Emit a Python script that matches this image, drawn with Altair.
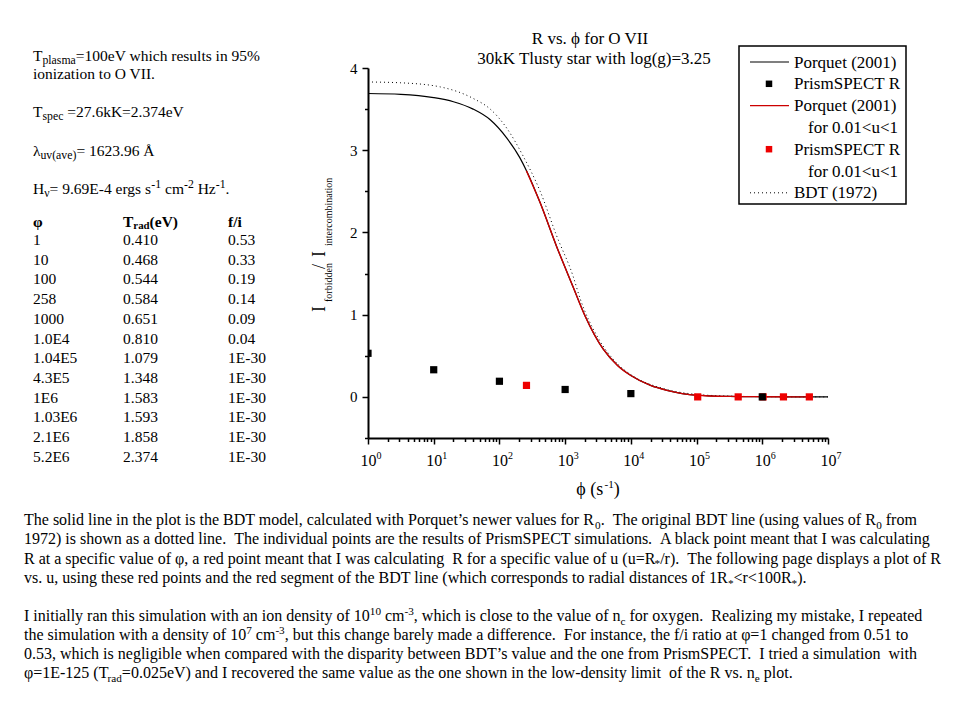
import altair as alt
import numpy as np
import pandas as pd

# ---------------- values ----------------
# Porquet (2001) curve (solid black), log10(phi) and R
porquet_logphi = [0, 0.5, 1.0, 1.3, 1.6, 1.86, 2.11, 2.31, 2.43, 2.62, 2.87, 3.12, 3.3,
                  3.58, 3.8, 4.0, 4.3, 4.55, 5.0, 5.5, 6.0, 6.5, 7.0]
porquet_R = [3.69, 3.68, 3.64, 3.59, 3.50, 3.37, 3.15, 2.91, 2.72, 2.36, 1.83, 1.34, 0.99,
             0.58, 0.38, 0.26, 0.14, 0.08, 0.02, 0.006, 0.002, 0.0, 0.0]
# red segment of the same curve (0.01<u<1)
red_logphi = [2.41, 2.62, 2.87, 3.12, 3.3, 3.58, 3.8, 4.0, 4.3, 4.55, 5.0, 5.5, 6.0, 6.5, 6.72]
red_R = [2.75, 2.36, 1.83, 1.34, 0.99, 0.58, 0.38, 0.26, 0.14, 0.08, 0.02, 0.006, 0.002, 0.0, 0.0]
# BDT (1972) dotted curve
bdt_logphi = [0, 0.5, 1.1, 1.6, 1.86, 2.11, 2.36, 2.62, 2.87, 3.12, 3.23, 3.5, 3.8, 4.0,
              4.5, 5.0, 5.5, 6.0, 7.0]
bdt_R = [3.83, 3.82, 3.77, 3.63, 3.50, 3.27, 2.93, 2.50, 1.96, 1.47, 1.19, 0.72, 0.40, 0.27,
         0.10, 0.03, 0.01, 0.003, 0.0]
# PrismSPECT points
black_phi = [1, 10, 100, 1000, 1.0e4, 1.0e6]
black_R = [0.53, 0.33, 0.19, 0.09, 0.04, 1e-30]
red_phi = [258, 1.04e5, 4.3e5, 1.03e6, 2.1e6, 5.2e6]
red_pts_R = [0.14, 1e-30, 1e-30, 1e-30, 1e-30, 1e-30]

x_decades = [0, 1, 2, 3, 4, 5, 6, 7]
x_tick_values = [k * 10 ** d for d in range(7) for k in range(1, 10)] + [10 ** 7]
y_tick_values = [-0.5, 0, 0.5, 1, 1.5, 2, 2.5, 3, 3.5, 4]

title_lines = ["R vs. ϕ for O VII", "30kK Tlusty star with log(g)=3.25"]

table_phi = ["1", "10", "100", "258", "1000", "1.0E4", "1.04E5", "4.3E5", "1E6", "1.03E6", "2.1E6", "5.2E6"]
table_trad = ["0.410", "0.468", "0.544", "0.584", "0.651", "0.810", "1.079", "1.348", "1.583",
              "1.593", "1.858", "2.374"]
table_fi = ["0.53", "0.33", "0.19", "0.14", "0.09", "0.04", "1E-30", "1E-30", "1E-30", "1E-30",
            "1E-30", "1E-30"]

legend_labels = ["Porquet (2001)", "PrismSPECT R", "Porquet (2001)", "for 0.01<u<1",
                 "PrismSPECT R", "for 0.01<u<1", "BDT (1972)"]

# rich text lines: (text, kind) with kind n = normal, sub, sup
left_block = [
    [("T", "n"), ("plasma", "sub"), ("=100eV which results in 95%", "n")],
    [("ionization to O VII.", "n")],
    [("T", "n"), ("spec", "sub"), (" =27.6kK=2.374eV", "n")],
    [("λ", "n"), ("uv(ave)", "sub"), ("= 1623.96 Å", "n")],
    [("H", "n"), ("ν", "sub"), ("= 9.69E-4 ergs s", "n"), ("-1", "sup"), (" cm", "n"), ("-2", "sup"),
     (" Hz", "n"), ("-1", "sup"), (".", "n")],
]
table_header = [[("φ", "n")], [("T", "n"), ("rad", "sub"), ("(eV)", "n")], [("f/i", "n")]]

para1 = [
    [("The solid line in the plot is the BDT model, calculated with Porquet’s newer values for R", "n"),
     ("0", "sub"), (".  The original BDT line (using values of R", "n"), ("0", "sub"), (" from", "n")],
    [("1972) is shown as a dotted line.  The individual points are the results of PrismSPECT simulations.  A black point meant that I was calculating", "n")],
    [("R at a specific value of φ, a red point meant that I was calculating  R for a specific value of u (u=R", "n"),
     ("*", "sub"), ("/r).  The following page displays a plot of R", "n")],
    [("vs. u, using these red points and the red segment of the BDT line (which corresponds to radial distances of 1R", "n"),
     ("*", "sub"), ("<r<100R", "n"), ("*", "sub"), (").", "n")],
]
para2 = [
    [("I initially ran this simulation with an ion density of 10", "n"), ("10", "sup"), (" cm", "n"),
     ("-3", "sup"), (", which is close to the value of n", "n"), ("c", "sub"),
     (" for oxygen.  Realizing my mistake, I repeated", "n")],
    [("the simulation with a density of 10", "n"), ("7", "sup"), (" cm", "n"), ("-3", "sup"),
     (", but this change barely made a difference.  For instance, the f/i ratio at φ=1 changed from 0.51 to", "n")],
    [("0.53, which is negligible when compared with the disparity between BDT’s value and the one from PrismSPECT.  I tried a simulation  with", "n")],
    [("φ=1E-125 (T", "n"), ("rad", "sub"),
     ("=0.025eV) and I recovered the same value as the one shown in the low-density limit  of the R vs. n", "n"),
     ("e", "sub"), (" plot.", "n")],
]
x_title = [("ϕ (s", "n"), ("-1", "sup"), (")", "n")]

# ---------------- chart ----------------
FONT = "Liberation Serif"
RED_LINE = "#cc0000"
RED_PT = "#ee0000"
OX, OY = 368, 68  # page position of the plot origin

# Times / Liberation Serif advance widths (per em)
_W = {" ": .25, "\u00a0": .25, "!": .333, "%": .833, "&": .778, "'": .18, "’": .333, "(": .333,
      ")": .333, "*": .5, "+": .564, ",": .25, "-": .333, ".": .25, "/": .278, ":": .278, ";": .278,
      "<": .564, "=": .564, ">": .564, "?": .444,
      "A": .722, "B": .667, "C": .667, "D": .722, "E": .611, "F": .556, "G": .722, "H": .722, "I": .333,
      "J": .389, "K": .722, "L": .611, "M": .889, "N": .722, "O": .722, "P": .556, "Q": .722, "R": .667,
      "S": .556, "T": .611, "U": .722, "V": .722, "W": .944, "X": .722, "Y": .722, "Z": .611,
      "a": .444, "b": .5, "c": .444, "d": .5, "e": .444, "f": .333, "g": .5, "h": .5, "i": .278,
      "j": .278, "k": .5, "l": .278, "m": .778, "n": .5, "o": .5, "p": .5, "q": .5, "r": .333, "s": .389,
      "t": .278, "u": .5, "v": .5, "w": .722, "x": .5, "y": .5, "z": .444,
      "φ": .52, "ϕ": .6, "λ": .48, "ν": .46, "Å": .722}
_WB = {"T": .667, "r": .444, "a": .5, "d": .556, "e": .444, "V": .722, "f": .333, "i": .278, "φ": .55}


def text_width(s, size, bold=False):
    tot = 0.0
    for ch in s:
        if bold and ch in _WB:
            tot += _WB[ch]
        elif ch.isdigit():
            tot += .5
        else:
            tot += _W.get(ch, .5)
    return tot * size


one = pd.DataFrame({"k": [0]})


def T(s, x, y, size=15.5, align="left", weight="normal", angle=0, color="black", lh=None):
    kw = dict(text=s, font=FONT, fontSize=size, align=align, baseline="alphabetic",
              fontWeight=weight, color=color)
    if angle:
        kw["angle"] = angle
    if lh:
        kw["lineBreak"] = "\n"
        kw["lineHeight"] = lh
    return alt.Chart(one).mark_text(**kw).encode(x=alt.value(x - OX), y=alt.value(y - OY))


def rich(segs, x, y, size, align="left", bold=False, sub_scale=0.7, sub_drop=0.22):
    """lay out a line of text with subscripts / superscripts, segment after segment"""
    items = []
    for text, kind in segs:
        fs = size * sub_scale if kind in ("sub", "sup") else size
        dy = sub_drop * size if kind == "sub" else (-0.38 * size if kind == "sup" else 0)
        stripped = text.lstrip(" ")
        lead = (len(text) - len(stripped)) * 0.25 * fs
        t = stripped.replace("  ", " \u00a0")
        items.append((t, fs, dy, lead))
    total = sum(lead + text_width(t, fs, bold) for t, fs, _, lead in items)
    cx = x - total / 2 if align == "center" else x
    out = []
    for t, fs, dy, lead in items:
        cx += lead
        out.append(T(t, cx, y + dy, size=fs, weight="bold" if bold else "normal"))
        cx += text_width(t, fs, bold)
    return out


DECADE = "abs(log(datum.value)/LN10 - round(log(datum.value)/LN10)) < 0.001"

xscale = alt.Scale(type="log", domain=[1, 1e7], nice=False)
yscale = alt.Scale(domain=[-0.5, 4], nice=False, zero=False)
xaxis = alt.Axis(values=x_tick_values, labelExpr=f"{DECADE} ? '10' : ''",
                 tickSize={"condition": {"test": DECADE, "value": 6}, "value": 3.5},
                 labelFontSize=16, labelPadding=8, labelFlush=False, labelOverlap=False, title="")
yaxis = alt.Axis(values=y_tick_values, labelExpr="datum.value % 1 == 0 ? format(datum.value, 'd') : ''",
                 tickSize={"condition": {"test": "datum.value % 1 == 0", "value": 6}, "value": 3.5},
                 labelFontSize=15, labelPadding=5, labelFlush=False, labelOverlap=False, title="")

X = alt.X("phi:Q", scale=xscale, axis=xaxis)
Y = alt.Y("R:Q", scale=yscale, axis=yaxis)


def curve(logphi, vals):
    return pd.DataFrame({"phi": 10 ** np.array(logphi, dtype=float), "R": vals})


bdt = alt.Chart(curve(bdt_logphi, bdt_R)).mark_line(
    color="black", strokeWidth=1, strokeDash=[1, 3], interpolate="monotone").encode(x=X, y=Y)
porq = alt.Chart(curve(porquet_logphi, porquet_R)).mark_line(
    color="black", strokeWidth=1.2, interpolate="monotone").encode(x=X, y=Y)
porq_red = alt.Chart(curve(red_logphi, red_R)).mark_line(
    color=RED_LINE, strokeWidth=1.4, interpolate="monotone").encode(x=X, y=Y)
red_pts = alt.Chart(pd.DataFrame({"phi": red_phi, "R": red_pts_R})).mark_square(
    size=52, color=RED_PT, opacity=1, clip=True).encode(x=X, y=Y)
black_pts = alt.Chart(pd.DataFrame({"phi": black_phi, "R": black_R})).mark_square(
    size=52, color="black", opacity=1, clip=True).encode(x=X, y=Y)

# superscript exponents of the x tick labels (10^d)
exp_df = pd.DataFrame({"phi": [10 ** d for d in x_decades], "R": [0.0] * len(x_decades),
                       "exp": [str(d) for d in x_decades]})
x_exp = alt.Chart(exp_df).mark_text(font=FONT, fontSize=10, align="left", baseline="alphabetic",
                                    dx=8.5, color="black").encode(
    x=X, y=alt.value(459 - OY), text="exp:N")


def rule(x1, x2, y, color, width, dash=None):
    kw = dict(color=color, strokeWidth=width)
    if dash:
        kw["strokeDash"] = dash
    return alt.Chart(one).mark_rule(**kw).encode(
        x=alt.value(x1 - OX), x2=alt.value(x2 - OX), y=alt.value(y - OY))


def sq(x, y, color):
    return alt.Chart(one).mark_square(size=42, color=color, opacity=1).encode(
        x=alt.value(x - OX), y=alt.value(y - OY))


texts = []
# titles
texts.append(T(title_lines[0], 590, 44, size=17, align="center"))
texts.append(T(title_lines[1], 594, 64, size=17, align="center"))
# x-axis title
texts += rich(x_title, 598, 495, 18, align="center", sub_scale=0.62)
# y-axis title (rotated pieces)
texts.append(T("I", 325, 312, size=18, angle=270))
texts.append(T("forbidden", 332, 302, size=10, angle=270))
texts.append(T("/", 325, 269, size=18, angle=270))
texts.append(T("I", 325, 257, size=18, angle=270))
texts.append(T("intercombination", 332, 246, size=10, angle=270))

# left text block
for segs, yb in zip(left_block, [60.5, 79, 117, 156, 194]):
    texts += rich(segs, 33, yb, 15.5, sub_scale=0.76)
# table
for segs, xx in zip(table_header, [33, 123, 228]):
    texts += rich(segs, xx, 226.5, 15.5, bold=True, sub_scale=0.7, sub_drop=0.18)
texts += [
    T("\n".join(table_phi), 33, 245, lh=19.7),
    T("\n".join(table_trad), 123, 245, lh=19.7),
    T("\n".join(table_fi), 228, 245, lh=19.7),
]
# legend
leg_y = [62, 83.8, 105.6, 127.4, 149.2, 171, 192.8]
legend_box = alt.Chart(one).mark_rect(fillOpacity=0, stroke="black", strokeWidth=1.5).encode(
    x=alt.value(739 - OX), x2=alt.value(906 - OX), y=alt.value(46 - OY), y2=alt.value(204 - OY))
legend_parts = [
    legend_box,
    rule(750, 789, leg_y[0], "black", 1.2),
    sq(769, leg_y[1], "black"),
    rule(750, 789, leg_y[2], RED_LINE, 1.4),
    sq(769, leg_y[4], RED_PT),
    rule(750, 789, leg_y[6], "black", 1, dash=[1, 3]),
]
for i, lab in enumerate(legend_labels):
    xx = 808 if lab.startswith("for") else 794
    texts.append(T(lab, xx, leg_y[i] + 5.5, size=17))

# paragraphs
for segs, yb in zip(para1, [525, 544.3, 563.6, 583]):
    texts += rich(segs, 24, yb, 16)
for segs, yb in zip(para2, [621, 640, 659, 678]):
    texts += rich(segs, 24, yb, 16)

chart = alt.layer(bdt, porq, porq_red, red_pts, black_pts, x_exp, *legend_parts, *texts).properties(
    width=460, height=370,
    autosize=alt.AutoSizeParams(type="none"),
    padding={"left": 360, "top": 60, "right": 124, "bottom": 260},
).configure_view(stroke="transparent").configure_axis(
    domainColor="black", domainWidth=2, tickColor="black", tickWidth=1.5, grid=False,
    labelColor="black", labelFont=FONT, titleFont=FONT, titleColor="black",
    titleFontWeight="normal",
)

chart.save("out.html", embed_options={"renderer": "svg", "actions": False})
